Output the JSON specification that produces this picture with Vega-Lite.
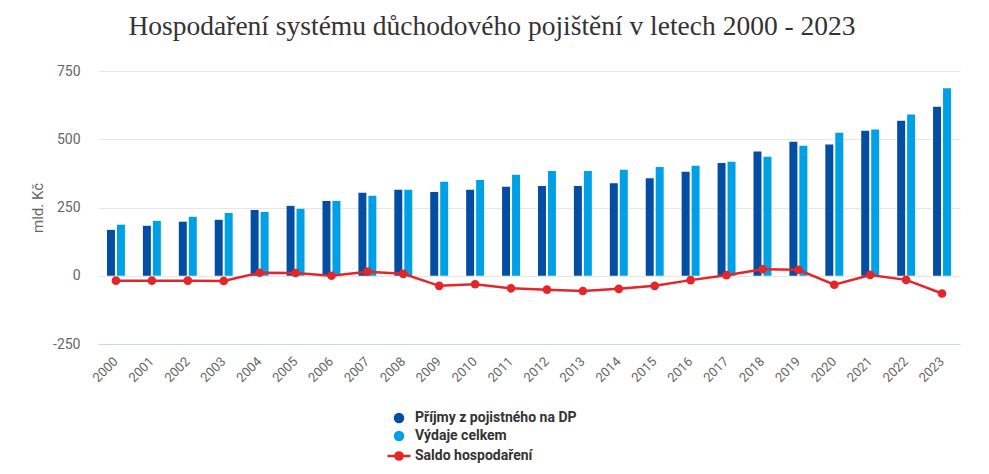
{
  "$schema": "https://vega.github.io/schema/vega-lite/v6.json",
  "width": 862,
  "height": 273,
  "autosize": {"type": "none"},
  "padding": {"left": 98, "top": 71, "right": 29, "bottom": 130},
  "background": "white",
  "title": {
    "text": "Hospodaření systému důchodového pojištění v letech 2000 - 2023",
    "font": "Liberation Serif",
    "fontSize": 27.5,
    "fontWeight": "normal",
    "color": "#333333",
    "anchor": "middle",
    "dx": -37,
    "offset": 24
  },
  "config": {
    "view": {"stroke": null},
    "axis": {"labelFont": "Roboto", "titleFont": "Roboto", "labelColor": "#666666", "titleColor": "#666666"}
  },
  "data": {
    "values": [
      {"rok": "2000", "prijmy": 168, "vydaje": 187, "saldo": -18},
      {"rok": "2001", "prijmy": 183, "vydaje": 201, "saldo": -18},
      {"rok": "2002", "prijmy": 198, "vydaje": 216, "saldo": -18},
      {"rok": "2003", "prijmy": 205, "vydaje": 230, "saldo": -19},
      {"rok": "2004", "prijmy": 241, "vydaje": 234, "saldo": 11},
      {"rok": "2005", "prijmy": 256, "vydaje": 245, "saldo": 10},
      {"rok": "2006", "prijmy": 274, "vydaje": 274, "saldo": 0},
      {"rok": "2007", "prijmy": 304, "vydaje": 293, "saldo": 15},
      {"rok": "2008", "prijmy": 315, "vydaje": 315, "saldo": 7},
      {"rok": "2009", "prijmy": 307, "vydaje": 344, "saldo": -37},
      {"rok": "2010", "prijmy": 315, "vydaje": 351, "saldo": -31},
      {"rok": "2011", "prijmy": 326, "vydaje": 370, "saldo": -46},
      {"rok": "2012", "prijmy": 329, "vydaje": 384, "saldo": -51},
      {"rok": "2013", "prijmy": 329, "vydaje": 384, "saldo": -56},
      {"rok": "2014", "prijmy": 339, "vydaje": 388, "saldo": -48},
      {"rok": "2015", "prijmy": 357, "vydaje": 398, "saldo": -37},
      {"rok": "2016", "prijmy": 381, "vydaje": 403, "saldo": -16},
      {"rok": "2017", "prijmy": 413, "vydaje": 418, "saldo": 2},
      {"rok": "2018", "prijmy": 455, "vydaje": 436, "saldo": 24},
      {"rok": "2019", "prijmy": 491, "vydaje": 476, "saldo": 22},
      {"rok": "2020", "prijmy": 481, "vydaje": 524, "saldo": -33},
      {"rok": "2021", "prijmy": 531, "vydaje": 536, "saldo": 3},
      {"rok": "2022", "prijmy": 568, "vydaje": 591, "saldo": -15},
      {"rok": "2023", "prijmy": 619, "vydaje": 687, "saldo": -65}
    ]
  },
  "encoding": {
    "x": {
      "field": "rok",
      "type": "ordinal",
      "scale": {"paddingInner": 0.5, "paddingOuter": 0.25},
      "axis": {
        "title": null,
        "labelAngle": -45,
        "labelAlign": "right",
        "labelBaseline": "middle",
        "labelPadding": 15,
        "labelFontSize": 13,
        "ticks": false,
        "grid": false,
        "domain": true,
        "domainColor": "#ccd6eb",
        "domainWidth": 1
      }
    }
  },
  "layer": [
    {
      "transform": [{"fold": ["prijmy", "vydaje"], "as": ["serie", "hodnota"]}],
      "mark": {"type": "bar"},
      "encoding": {
        "xOffset": {"field": "serie", "scale": {"domain": ["prijmy", "vydaje"], "paddingInner": 0.2, "paddingOuter": 0}},
        "y": {
          "field": "hodnota",
          "type": "quantitative",
          "scale": {"domain": [-250, 750], "nice": false},
          "axis": {
            "title": "mld. Kč",
            "titleFontSize": 15,
            "titleFontWeight": "normal",
            "titleAngle": -90,
            "titleX": -61,
            "titleY": 136.5,
            "titleAlign": "center",
            "titleBaseline": "middle",
            "values": [-250, 0, 250, 500, 750],
            "labelExpr": "'' + datum.value",
            "labelFontSize": 14,
            "labelPadding": 18,
            "ticks": false,
            "domain": false,
            "grid": true,
            "gridColor": "#e6e6e6",
            "gridWidth": 1
          }
        },
        "color": {
          "field": "serie",
          "type": "nominal",
          "scale": {"domain": ["prijmy", "vydaje", "saldo"], "range": ["#034ea2", "#00a0e6", "#e3262a"]},
          "legend": {
            "orient": "none",
            "legendX": 294,
            "legendY": 340,
            "title": null,
            "direction": "vertical",
            "symbolSize": 400,
            "labelOffset": 9,
            "labelLimit": 400,
            "rowPadding": 4,
            "labelFont": "Roboto",
            "labelFontSize": 14,
            "labelFontWeight": "bold",
            "labelColor": "#333333",
            "labelExpr": "datum.value == 'prijmy' ? 'Příjmy z pojistného na DP' : datum.value == 'vydaje' ? 'Výdaje celkem' : 'Saldo hospodaření'",
            "encode": {
              "symbols": {
                "update": {
                  "shape": {"signal": "datum.value === 'saldo' ? 'M-1.15,0L1.15,0M-0.36,0A0.36,0.36,0,1,0,0.36,0A0.36,0.36,0,1,0,-0.36,0Z' : 'circle'"},
                  "size": {"signal": "datum.value === 'saldo' ? 400 : 110"},
                  "fill": {"scale": "color", "field": "value"},
                  "stroke": {"scale": "color", "field": "value"},
                  "strokeWidth": {"signal": "datum.value === 'saldo' ? 2.5 : 0"},
                  "opacity": {"value": 1},
                  "fillOpacity": {"value": 1}
                }
              }
            }
          }
        }
      }
    },
    {
      "mark": {"type": "line", "strokeWidth": 2.5, "point": {"filled": true, "size": 75}},
      "encoding": {
        "y": {"field": "saldo", "type": "quantitative"},
        "color": {"datum": "saldo"}
      }
    }
  ]
}
